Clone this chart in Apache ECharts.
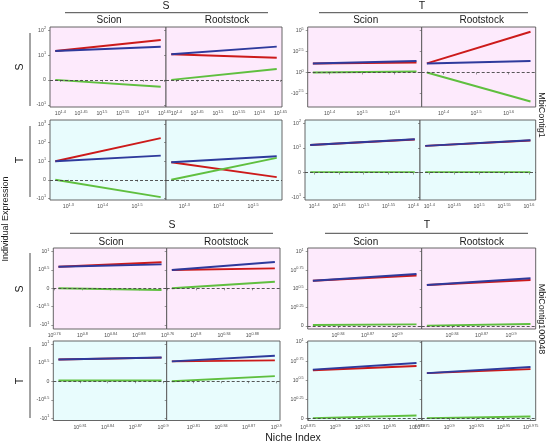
<!DOCTYPE html>
<html><head><meta charset="utf-8">
<script src="https://cdn.jsdelivr.net/npm/echarts@6/dist/echarts.min.js"></script>
<style>html,body{margin:0;padding:0;background:#fff}#c{width:546px;height:444px}</style>
</head><body><div id="c"></div>
<script>
// Panel order: block (MbiContig1 S, MbiContig1 T, MbiContig100048 S, MbiContig100048 T) x row (S, T) x column (Scion, Rootstock)
const contigs = ['MbiContig1', 'MbiContig100048'];
const blockHeaders = ['S', 'T', 'S', 'T'];
const rowLabels = ['S', 'T'];
const colLabels = ['Scion', 'Rootstock'];

// x extents of the fitted lines (log10 Niche Index)
const xStart = [1.388,1.388,1.262,1.262, 1.349,1.349,1.392,1.392, 0.766,0.766,0.7866,0.7866, 0.8143,0.8143,0.8795,0.8795];
const xEnd   = [1.641,1.641,1.569,1.569, 1.667,1.667,1.603,1.603, 0.912,0.912,0.8984,0.8984, 0.9197,0.9197,0.9748,0.9748];
// line values (pseudo-log expression units)
const redStart   = [1.165,1.032,1.0,0.946, 1.08,1.08,1.12,1.08, 0.59,0.5,0.59,0.54, 0.61,0.552,0.631,0.595];
const redEnd     = [1.608,0.895,2.24,0.14, 1.2,4.87,1.34,1.30, 0.71,0.545,0.64,0.565, 0.679,0.619,0.687,0.647];
const blueStart  = [1.165,1.032,1.0,0.946, 1.08,1.08,1.12,1.08, 0.59,0.5,0.59,0.54, 0.61,0.552,0.64,0.595];
const blueEnd    = [1.338,1.338,1.30,1.27, 1.37,1.37,1.35,1.31, 0.654,0.717,0.645,0.69, 0.70,0.642,0.726,0.674];
const greenStart = [0,0,0,0, 0,0,0.02,0.02, 0,0,0.02,0, 0.013,0.005,0.008,0.008];
const greenEnd   = [-0.274,0.44,-0.935,1.18, 0.12,-3.47,0.02,0.02, -0.046,0.18,0.02,0.14, 0.022,0.027,0.043,0.03];

// tick exponents per block-row
const xTicks = [[1.4,1.45,1.5,1.55,1.6,1.65],[1.3,1.4,1.5],[1.4,1.5,1.6],[1.4,1.45,1.5,1.55,1.6],
                [0.76,0.8,0.84,0.88],[0.81,0.84,0.87,0.9],[0.84,0.87,0.9],[0.875,0.9,0.925,0.95,0.975]];
const yTicks = [[-1,0,1,2],[-1,0,1,2,3],[-2.5,0,2.5,5],[-1,0,1,2],
                [-1,-0.5,0,0.5,1],[-1,-0.5,0,0.5,1],[0,0.25,0.5,0.75,1],[0,0.25,0.5,0.75,1]];
const yRange = [[-1.09,2.13],[-1.09,3.22],[-4.13,5.44],[-1.11,2.13],[-1.11,1.1],[-1.06,1.09],[-0.04,1.05],[-0.023,1.013]];
const yZeroAsPower = [false,false,true,false,false,false,false,false];

// ---- layout ----
const blockRows = [[[27,107],[120,200]], [[27,107],[120,200]], [[248,329],[341,420.5]], [[248,329],[341,420.5]]];
const blockCols = [
  [[[50,166],[166,282]], [[50,166],[166,282]]],
  [[[307.7,421.7],[421.7,535.7]], [[305,420],[420,535.7]]],
  [[[53.3,166.7],[166.7,280]], [[53.3,166.7],[166.7,280]]],
  [[[307.7,421.7],[421.7,535.7]], [[307.7,421.7],[421.7,535.7]]]
];
const FONT = 'Liberation Sans, Arial, sans-serif';
const RED = '#cc1a1a', BLUE = '#2e3a9c', GREEN = '#5fbf3f';
const PINK = '#fdeafc', CYAN = '#e8fcfd';

function fmtExp(v){ return String(parseFloat(Math.abs(v).toFixed(4))); }
function expLabel(v, zeroPow){
  if (Math.abs(v) < 1e-9) return zeroPow ? '{b|10}{s|0}' : '{b|0}';
  return '{b|' + (v < 0 ? '-' : '') + '10}{s|' + fmtExp(v) + '}';
}
const rich = {
  b: {fontSize: 5.2, color: '#4d4d4d', fontFamily: FONT},
  s: {fontSize: 3.8, color: '#4d4d4d', fontFamily: FONT, padding: [0,0,4,0]}
};

const grids = [], xAxes = [], yAxes = [], series = [];
for (let b = 0; b < 4; b++) {
  for (let r = 0; r < 2; r++) {
    const br = b*2 + r;
    for (let c = 0; c < 2; c++) {
      const i = br*2 + c;
      const [x0, x1] = blockCols[b][r][c];
      const [y0, y1] = blockRows[b][r];
      grids.push({left: x0, top: y0, width: x1-x0, height: y1-y0, show: true,
        backgroundColor: r === 0 ? PINK : CYAN, borderColor: '#555', borderWidth: 0.9});
      const span = xEnd[i] - xStart[i];
      const xt = xTicks[br], yt = yTicks[br];
      xAxes.push({gridIndex: i, type: 'value', min: xStart[i] - 0.05*span, max: xEnd[i] + 0.05*span,
        axisLine: {show: false}, splitLine: {show: false},
        axisTick: {show: true, length: 2, lineStyle: {color: '#555', width: 0.6}, customValues: xt},
        axisLabel: {customValues: xt, margin: 3, formatter: v => expLabel(v, false), rich: rich, hideOverlap: false}});
      yAxes.push({gridIndex: i, type: 'value', min: yRange[br][0], max: yRange[br][1],
        axisLine: {show: false}, splitLine: {show: false},
        axisTick: {show: true, length: 2, lineStyle: {color: '#555', width: 0.6}, customValues: yt},
        axisLabel: {show: c === 0, customValues: yt, margin: 4, formatter: v => expLabel(v, yZeroAsPower[br]), rich: rich}});
      const mk = (s, e, col, z) => ({type: 'line', xAxisIndex: i, yAxisIndex: i, symbol: 'none', z: z,
        lineStyle: {color: col, width: 1.9}, data: [[xStart[i], s], [xEnd[i], e]], animation: false, silent: true});
      series.push(mk(redStart[i], redEnd[i], RED, 2));
      series.push(mk(blueStart[i], blueEnd[i], BLUE, 3));
      series.push(mk(greenStart[i], greenEnd[i], GREEN, 4));
      series.push({type: 'line', xAxisIndex: i, yAxisIndex: i, symbol: 'none', z: 5, data: [],
        lineStyle: {opacity: 0}, animation: false, silent: true,
        markLine: {silent: true, symbol: ['none','none'], label: {show: false}, animation: false,
          lineStyle: {color: '#444', type: [3, 2], width: 0.9}, data: [{yAxis: 0}]}});
    }
  }
}

const graphic = [];
const txt = (t, x, y, size, rot, color) => graphic.push({type: 'text', x: x, y: y, rotation: rot || 0,
  style: {text: t, fontSize: size, fontFamily: FONT, fill: color || '#1a1a1a', align: 'center', verticalAlign: 'middle'}});
const ln = (x1, y1, x2, y2) => graphic.push({type: 'line', shape: {x1, y1, x2, y2}, style: {stroke: '#333', lineWidth: 0.9}});

// column headers
const headerPos = [[166, 6, 65, 268, 12.7, 20], [422, 6, 319, 528, 12.7, 20], [172, 225, 70, 273, 233.3, 242], [427, 225, 325, 528, 233.3, 242]];
for (let b = 0; b < 4; b++) {
  const h = headerPos[b];
  txt(blockHeaders[b], h[0], h[1], 10.5);
  ln(h[2], h[4], h[3], h[4]);
  for (let c = 0; c < 2; c++) {
    const [x0, x1] = blockCols[b][0][c];
    txt(colLabels[c], (x0 + x1)/2 + (c === 1 ? 3 : 1), h[5], 10);
  }
}
// row strips (left)
const rowStrip = [[67, 33, 106], [160, 126, 197], [289, 253, 327], [381, 347, 418]];
rowStrip.forEach((s, k) => { txt(rowLabels[k % 2], 20, s[0], 10.5, Math.PI/2); ln(30, s[1], 30, s[2]); });
// contig strips (right)
txt(contigs[0], 541, 115, 9, -Math.PI/2);
txt(contigs[1], 541, 319, 9, -Math.PI/2);
// axis titles
txt('Individual Expression', 6, 219, 9, Math.PI/2);
txt('Niche Index', 293, 438, 10.5);

const chart = echarts.init(document.getElementById('c'), null, {renderer: 'canvas'});
chart.setOption({animation: false, grid: grids, xAxis: xAxes, yAxis: yAxes, series: series, graphic: graphic});
</script></body></html>
